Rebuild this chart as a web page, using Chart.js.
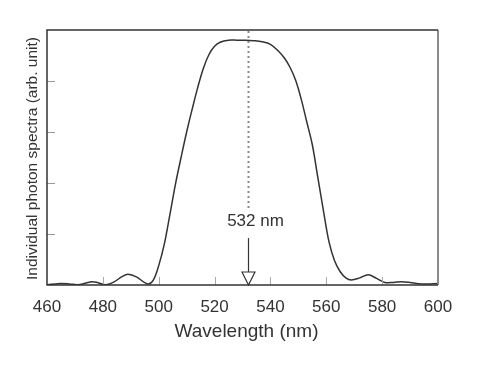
<!DOCTYPE html>
<html>
<head>
<meta charset="utf-8">
<script src="https://cdn.jsdelivr.net/npm/chart.js@4.4.1/dist/chart.umd.min.js"></script>
<style>
  html, body { margin: 0; padding: 0; background: #fff; }
  #wrap { width: 491px; height: 388px; }
</style>
</head>
<body>
<div id="wrap"><canvas id="spectrum"></canvas></div>
<script>
// wavelength (nm) and intensity (arb. unit, axis 0..5)
const WAVELENGTHS = [460, 463, 465, 468, 471, 474, 476, 478, 481, 484, 487, 489, 492, 496, 498,
  500, 502, 504, 506, 508, 510, 512, 514, 516, 518, 520, 522, 525, 528, 531, 534, 537, 540,
  543, 545, 547, 549, 551, 553, 555, 557, 559, 561, 563, 565, 567, 569, 572, 575, 578, 581,
  584, 587, 590, 593, 596, 600];
const INTENSITY = [0.005, 0.02, 0.03, 0.02, 0.005, 0.04, 0.065, 0.05, 0.005, 0.06, 0.17, 0.21, 0.16, 0.02, 0.09,
  0.38, 0.8, 1.38, 1.98, 2.5, 3.0, 3.45, 3.88, 4.25, 4.52, 4.68, 4.76, 4.80, 4.80, 4.80, 4.79, 4.77, 4.72,
  4.58, 4.45, 4.27, 4.02, 3.65, 3.2, 2.75, 2.1, 1.45, 0.84, 0.47, 0.26, 0.14, 0.10, 0.14, 0.20, 0.13, 0.05,
  0.05, 0.065, 0.05, 0.025, 0.02, 0.03];
const X_TICKS = [460, 480, 500, 520, 540, 560, 580, 600];
const Y_TICKS = [1, 2, 3, 4];
const MARKER_NM = 532;
const MARKER_LABEL = '532 nm';
const X_TITLE = 'Wavelength (nm)';
const Y_TITLE = 'Individual photon spectra (arb. unit)';

const FONT = "'Liberation Sans', Arial, Helvetica, sans-serif";
const INK = '#333';

const points = WAVELENGTHS.map((nm, i) => ({ x: nm, y: INTENSITY[i] }));

// frame, inward ticks, titles and the 532 nm marker
const overlay = {
  id: 'overlay',
  afterDatasetsDraw(chart) {
    const { ctx, chartArea: a, scales: { x, y } } = chart;
    ctx.save();

    // inward ticks
    ctx.lineWidth = 1;
    ctx.strokeStyle = '#aaa';
    X_TICKS.slice(1, -1).forEach(v => {
      const px = Math.round(x.getPixelForValue(v)) + 0.5;
      ctx.beginPath();
      ctx.moveTo(px, a.bottom);
      ctx.lineTo(px, a.bottom - 8);
      ctx.stroke();
    });
    ctx.strokeStyle = '#999';
    Y_TICKS.forEach(v => {
      const py = Math.round(y.getPixelForValue(v)) + 0.5;
      ctx.beginPath();
      ctx.moveTo(a.left, py);
      ctx.lineTo(a.left + 8, py);
      ctx.stroke();
    });

    // frame
    ctx.strokeStyle = '#8a8a8a';
    ctx.lineWidth = 2;
    ctx.beginPath();
    ctx.moveTo(a.right, a.top);
    ctx.lineTo(a.right, a.bottom);
    ctx.stroke();
    ctx.strokeStyle = INK;
    ctx.lineWidth = 1.5;
    ctx.beginPath();
    ctx.moveTo(a.right, a.top);
    ctx.lineTo(a.left, a.top);
    ctx.lineTo(a.left, a.bottom);
    ctx.lineTo(a.right, a.bottom);
    ctx.stroke();

    // marker: dotted guide, label, arrow
    const mx = Math.round(x.getPixelForValue(MARKER_NM)) + 0.5;
    ctx.strokeStyle = '#888';
    ctx.lineWidth = 2;
    ctx.setLineDash([2, 3]);
    ctx.beginPath();
    ctx.moveTo(mx, a.top + 1);
    ctx.lineTo(mx, y.getPixelForValue(1.5));
    ctx.stroke();
    ctx.setLineDash([]);

    ctx.fillStyle = INK;
    ctx.font = '17px ' + FONT;
    ctx.textAlign = 'center';
    ctx.textBaseline = 'middle';
    ctx.fillText(MARKER_LABEL, mx + 7, y.getPixelForValue(1.25));

    const headTop = a.bottom - 13;
    ctx.strokeStyle = INK;
    ctx.lineWidth = 1.2;
    ctx.beginPath();
    ctx.moveTo(mx, y.getPixelForValue(0.92));
    ctx.lineTo(mx, headTop);
    ctx.stroke();
    ctx.fillStyle = '#fff';
    ctx.beginPath();
    ctx.moveTo(mx - 6.5, headTop);
    ctx.lineTo(mx + 6.5, headTop);
    ctx.lineTo(mx, a.bottom);
    ctx.closePath();
    ctx.fill();
    ctx.stroke();

    // axis titles
    ctx.fillStyle = INK;
    ctx.font = '19px ' + FONT;
    ctx.fillText(X_TITLE, (a.left + a.right) / 2 + 4, a.bottom + 47);
    ctx.font = '15.5px ' + FONT;
    ctx.translate(a.left - 14, (a.top + a.bottom) / 2 + 1);
    ctx.rotate(-Math.PI / 2);
    ctx.fillText(Y_TITLE, 0, 0);

    ctx.restore();
  }
};

new Chart(document.getElementById('spectrum'), {
  type: 'line',
  data: {
    datasets: [{
      data: points,
      borderColor: INK,
      borderWidth: 1.5,
      pointRadius: 0,
      fill: false,
      tension: 0.35
    }]
  },
  plugins: [overlay],
  options: {
    responsive: true,
    maintainAspectRatio: false,
    animation: false,
    layout: { padding: { left: 47, right: 53, top: 30, bottom: 0 } },
    plugins: {
      legend: { display: false },
      tooltip: { enabled: false }
    },
    scales: {
      x: {
        type: 'linear',
        min: 460,
        max: 600,
        afterBuildTicks: (scale) => { scale.ticks = X_TICKS.map(v => ({ value: v })); },
        afterFit: (scale) => { scale.height = 103; },
        grid: { display: false, drawTicks: false },
        border: { display: false },
        ticks: {
          color: INK,
          padding: 12,
          maxRotation: 0,
          font: { family: FONT, size: 17 }
        }
      },
      y: {
        display: false,
        min: 0,
        max: 5
      }
    }
  }
});
</script>
</body>
</html>
